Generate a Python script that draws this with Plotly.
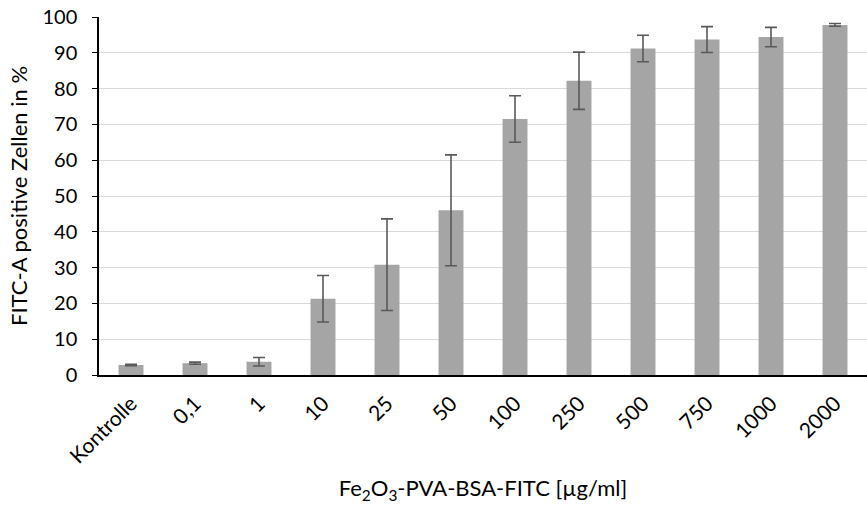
import plotly.graph_objects as go

categories = ["Kontrolle", "0,1", "1", "10", "25", "50", "100", "250", "500", "750", "1000", "2000"]
values = [2.8, 3.3, 3.7, 21.3, 30.8, 46.0, 71.5, 82.2, 91.2, 93.7, 94.4, 97.8]
errors = [0.2, 0.3, 1.2, 6.5, 12.8, 15.5, 6.5, 8.0, 3.7, 3.6, 2.7, 0.4]
y_ticks = list(range(0, 101, 10))

FONT = "Lato, Open Sans, sans-serif"

fig = go.Figure()
fig.add_trace(go.Bar(
    x=categories, y=values,
    marker=dict(color="#A5A5A5", line=dict(width=0)),
    error_y=dict(type="data", array=errors, visible=True,
                 color="#595959", thickness=1.6, width=6),
))

fig.update_layout(
    width=867, height=511,
    margin=dict(l=99, r=0, t=17, b=136),
    paper_bgcolor="white", plot_bgcolor="white",
    bargap=0.61,
    showlegend=False,
    font=dict(family=FONT, color="#000000"),
    xaxis=dict(
        tickangle=-45, tickfont=dict(size=21, family=FONT),
        showline=True, linecolor="#000000", linewidth=2,
        ticks="", showgrid=False, ticklabelstandoff=6,
        title=dict(text="Fe<sub>2</sub>O<sub>3</sub>-PVA-BSA-FITC [µg/ml]",
                   font=dict(size=22, family=FONT), standoff=14),
    ),
    yaxis=dict(
        range=[0, 100], tickvals=y_ticks,
        tickfont=dict(size=20, family=FONT),
        showline=True, linecolor="#000000", linewidth=1.5,
        ticks="outside", ticklen=5, tickcolor="#000000",
        ticklabelstandoff=11,
        showgrid=True, gridcolor="#D9D9D9", gridwidth=1,
        zeroline=False,
        title=dict(text="FITC-A positive Zellen in %", font=dict(size=22, family=FONT), standoff=9),
    ),
)

fig.write_html("out.html")
